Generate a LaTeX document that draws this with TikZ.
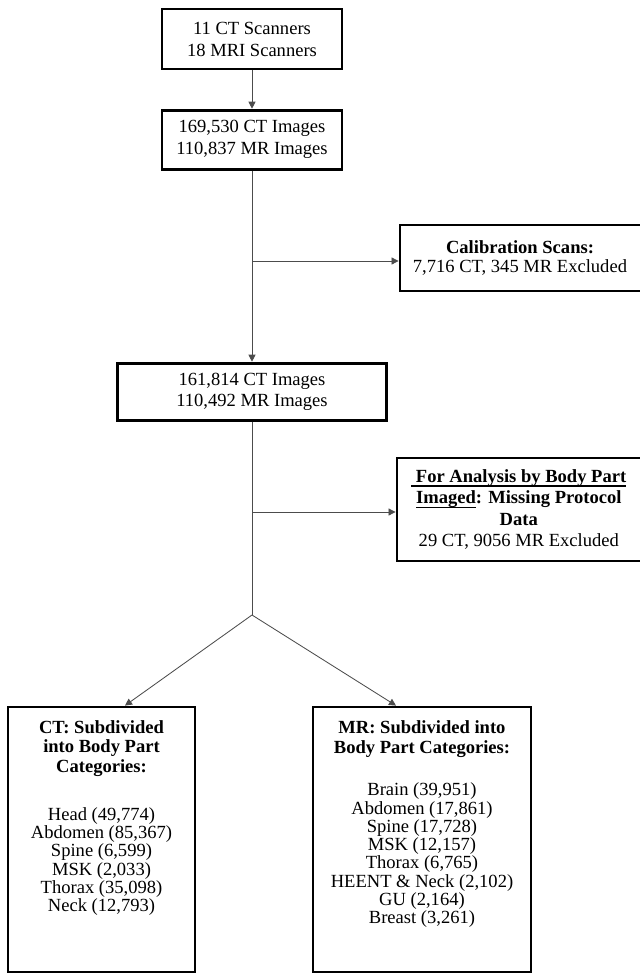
\documentclass[tikz,border=0pt]{standalone}
\usepackage{fontspec}
\setmainfont{Liberation Serif}
\usetikzlibrary{positioning,arrows.meta}

\newcommand{\boxfont}[1]{\fontsize{13.2}{#1}\selectfont}
\newsavebox{\ulsave}
\newcommand{\ulword}[1]{\sbox{\ulsave}{#1}\rlap{\rule[-2.6pt]{\wd\ulsave}{0.8pt}}\usebox{\ulsave}}

\begin{document}
\begin{tikzpicture}[
	box/.style={draw, line width=2pt, align=center},
	link/.style={draw=black!70, line width=0.6pt},
	arrow/.style={link, -{Triangle[length=5pt,width=5pt]}},
]
\path[use as bounding box, clip] (0,0) rectangle (16,-24.325);

%Scanners
\node [box,
	minimum width=4.5cm,
	minimum height=1.5cm,
	font=\boxfont{15.6pt},
]  (scanners)at (6.3,-0.975) {11 CT Scanners\\18 MRI Scanners};

%All Images
\node [box,
	minimum width=4.5cm,
	minimum height=1.475cm,
	font=\boxfont{15.6pt},
]  (images)at (6.3,-3.49) {169,530 CT Images\\110,837 MR Images};
\draw[arrow] (scanners.south) -- (images.north);

%Calibration Scans
\node [box,
	minimum width=6.3cm,
	minimum height=1.65cm,
]  (calib)at (13.15,-6.45) {};
\node [align=center, font=\boxfont{14.2pt}]  (calibtext)at (13.0,-6.45)
	{\textbf{Calibration Scans:}\\7,716 CT, 345 MR Excluded};

%Remaining Images
\node [box,
	minimum width=6.725cm,
	minimum height=1.425cm,
	font=\boxfont{14.6pt},
]  (remaining)at (6.3,-9.79) {161,814 CT Images\\110,492 MR Images};
\draw[arrow] (images.south) -- (remaining.north);

\coordinate (calibjoin) at (6.3,-6.525);
\draw[arrow] (calibjoin) -- (calibjoin -| calib.west);

%Missing Protocol
\node [box,
	minimum width=6.375cm,
	minimum height=2.575cm,
]  (missing)at (13.1125,-12.7375) {};
\node [align=center, font=\boxfont{15pt}]  (missingtext)at (12.97,-12.7375)
	{\textbf{\ulword{\ For Analysis by Body Part}}\\\textbf{\ulword{Imaged}: Missing Protocol}\\\textbf{Data}\\29 CT, 9056 MR Excluded};

\coordinate (split) at (6.3,-15.375);
\draw[link] (remaining.south) -- (split);

\coordinate (missingjoin) at (6.3,-12.8);
\draw[arrow] (missingjoin) -- (missingjoin -| missing.west);

%CT Body Parts
\node [box,
	minimum width=4.675cm,
	minimum height=6.625cm,
]  (ctbox)at (2.5375,-20.9875) {};
\node [below=0.245cm of ctbox.north, align=center, font=\boxfont{13pt}]  (cttext)
	{\textbf{CT: Subdivided}\\[1pt]\textbf{into Body Part}\\[1pt]\textbf{Categories:}\\[21pt]Head (49,774)\\Abdomen (85,367)\\Spine (6,599)\\MSK (2,033)\\Thorax (35,098)\\Neck (12,793)};

%MR Body Parts
\node [box,
	minimum width=5.45cm,
	minimum height=6.625cm,
]  (mrbox)at (10.55,-20.9875) {};
\node [below=0.245cm of mrbox.north, align=center, font=\boxfont{13pt}]  (mrtext)
	{\textbf{MR: Subdivided into}\\[1.5pt]\textbf{Body Part Categories:}\\[17pt]Brain (39,951)\\Abdomen (17,861)\\Spine (17,728)\\MSK (12,157)\\Thorax (6,765)\\HEENT \& Neck (2,102)\\GU (2,164)\\Breast (3,261)};

\node (ctin) [right=0.5875cm of ctbox.north, coordinate] {};
\node (mrin) [left=0.65cm of mrbox.north, coordinate] {};
\draw[arrow] (split) -- (ctin);
\draw[arrow] (split) -- (mrin);

\end{tikzpicture}
\end{document}
